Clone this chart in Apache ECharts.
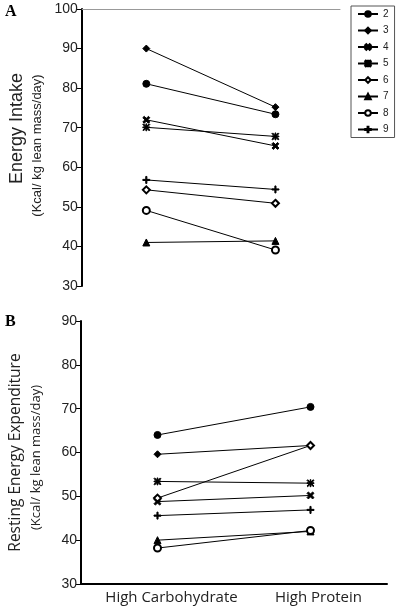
<!DOCTYPE html>
<html><head><meta charset="utf-8">
<script src="https://cdn.jsdelivr.net/npm/echarts@6/dist/echarts.min.js"></script>
<style>html,body{margin:0;padding:0;background:#fff}#c{width:400px;height:612px}</style>
</head><body><div id="c"></div>
<script>
const categories = ['High Carbohydrate', 'High Protein'];
const subjects = ['2', '3', '4', '5', '6', '7', '8', '9'];
const intakeCarb    = [81.1, 90.0, 72.0, 70.1, 54.3, 41.0, 49.1, 56.8];
const intakeProtein = [73.4, 75.2, 65.4, 67.8, 50.9, 41.4, 39.1, 54.4];
const reeCarb       = [64.0, 59.6, 48.8, 53.4, 49.6, 40.0, 38.2, 45.6];
const reeProtein    = [70.4, 61.6, 50.2, 53.0, 61.6, 42.0, 42.2, 46.9];
const intakeTicks = [30, 40, 50, 60, 70, 80, 90, 100];
const reeTicks = [30, 40, 50, 60, 70, 80, 90];

const symbols = [
  'circle',
  'diamond',
  'path://M0,2L2,0L10,8L8,10Z M8,0L10,2L2,10L0,8Z',
  'path://M4.4,0H5.6V10H4.4Z M0,4.4H10V5.6H0Z M0,1L1,0L10,9L9,10Z M9,0L10,1L1,10L0,9Z',
  'emptyDiamond',
  'triangle',
  'emptyCircle',
  'path://M4.2,0H5.8V10H4.2Z M0,4.2H10V5.8H0Z'
];

const chart = echarts.init(document.getElementById('c'));
const txt = '#222';
const series = [];
subjects.forEach((s, i) => {
  const common = {
    name: s, type: 'line', symbol: symbols[i], symbolSize: 7,
    lineStyle: {color: '#000', width: 1}, itemStyle: {color: '#000', borderColor: '#000', borderWidth: 1},
    emphasis: {disabled: true}, animation: false
  };
  series.push(Object.assign({}, common, {xAxisIndex: 0, yAxisIndex: 0, data: [intakeCarb[i], intakeProtein[i]]}));
  series.push(Object.assign({}, common, {xAxisIndex: 1, yAxisIndex: 1, data: [reeCarb[i], reeProtein[i]]}));
});

function yAxis(idx, ticks, name, gap, rich) {
  return {
    gridIndex: idx, type: 'value', min: ticks[0], max: ticks[ticks.length - 1], interval: 10,
    position: 'left',
    name: name, nameLocation: 'middle', nameRotate: 90, nameGap: gap,
    nameTextStyle: {rich: rich},
    axisLine: {show: true, onZero: false, lineStyle: {color: '#000', width: 2}},
    axisTick: {show: true, length: 5, lineStyle: {color: '#000', width: 1}},
    splitLine: {show: false},
    axisLabel: {fontFamily: 'Liberation Sans', fontSize: 14, color: txt, margin: 4}
  };
}

const richA = {
  a: {fontFamily: 'Liberation Sans', fontSize: 18, color: txt, lineHeight: 20, padding: [0, 0, 0, 38]},
  b: {fontFamily: 'Liberation Sans', fontSize: 13, color: txt, lineHeight: 20, padding: [0, 0, 0, 4]}
};
const richB = {
  a: {fontFamily: 'Open Sans', fontSize: 15.5, color: txt, lineHeight: 20},
  b: {fontFamily: 'Open Sans', fontSize: 13, color: txt, lineHeight: 20, padding: [0, 10, 0, 0]}
};

chart.setOption({
  animation: false,
  title: [
    {text: 'A', left: 5, top: 4, padding: 0, textStyle: {fontFamily: 'Liberation Serif', fontWeight: 'bold', fontSize: 16, color: '#000'}},
    {text: 'B', left: 5, top: 314, padding: 0, textStyle: {fontFamily: 'Liberation Serif', fontWeight: 'bold', fontSize: 16, color: '#000'}}
  ],
  grid: [
    {left: 75, top: 9, width: 265, height: 277},
    {left: 75, top: 321, width: 312, height: 263}
  ],
  xAxis: [
    {gridIndex: 0, type: 'category', data: categories, position: 'top',
     axisLine: {show: true, onZero: false, lineStyle: {color: '#999', width: 1}}, axisTick: {show: false}, axisLabel: {show: false}},
    {gridIndex: 1, type: 'category', data: categories, position: 'bottom',
     axisLine: {show: true, onZero: false, lineStyle: {color: '#000', width: 2}}, axisTick: {show: false},
     axisLabel: {interval: 0, hideOverlap: false, color: txt, margin: 6,
       formatter: (v, i) => (i === 0 ? '{a|' : '{b|') + v + '}',
       rich: {
         a: {fontFamily: 'Open Sans', fontSize: 15, color: txt, padding: [0, 0, 0, 28]},
         b: {fontFamily: 'Open Sans', fontSize: 15, color: txt, padding: [0, 0, 0, 16]}
       }}}
  ],
  yAxis: [
    yAxis(0, intakeTicks, '{a|Energy Intake}\n{b|(Kcal/ kg lean mass/day)}', 21, richA),
    yAxis(1, reeTicks, '{a|Resting Energy Expenditure}\n{b|(Kcal/ kg lean mass/day)}', 35, richB)
  ],
  legend: {
    orient: 'vertical', left: 351, top: 6, data: subjects,
    itemWidth: 20, itemHeight: 7, itemGap: 6.5,
    padding: [3, 6, 3, 6],
    borderColor: '#555', borderWidth: 1,
    textStyle: {fontFamily: 'Liberation Sans', fontSize: 10, color: txt},
    selectedMode: false
  },
  series: series
});
</script></body></html>
